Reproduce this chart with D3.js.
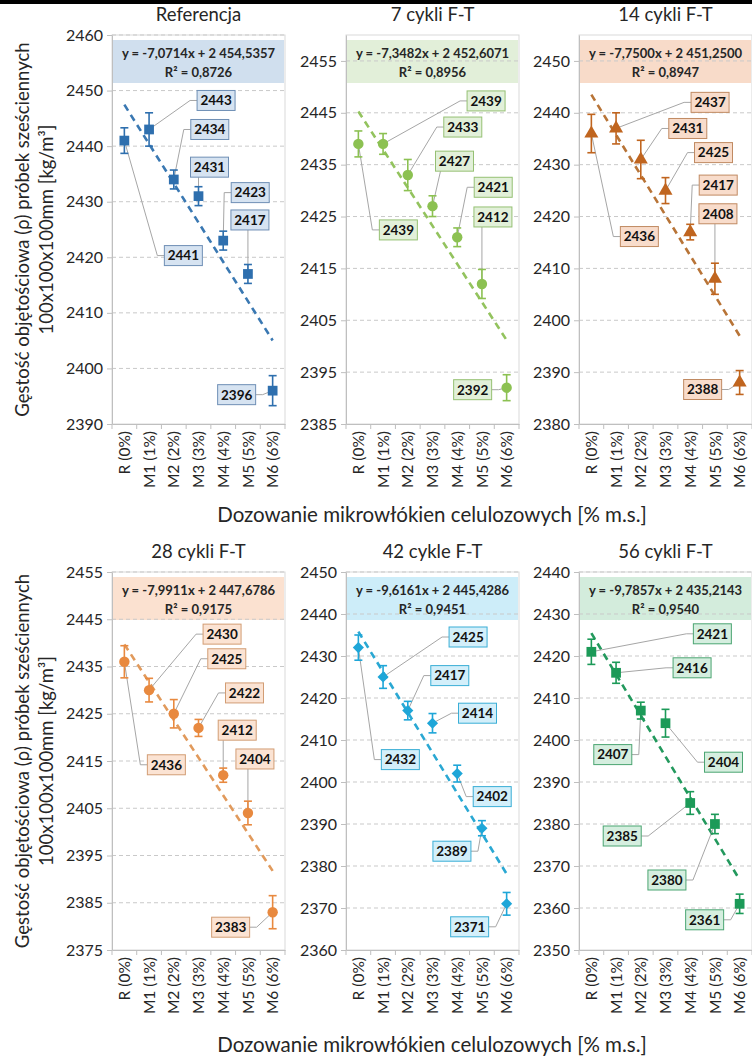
<!DOCTYPE html>
<html>
<head>
<meta charset="utf-8">
<script src="https://cdn.jsdelivr.net/npm/d3@7"></script>
<style>
  body { margin: 0; background: #fff; }
  svg { display: block; }
  text { font-family: Lato, "Open Sans", sans-serif; }
</style>
</head>
<body>
<svg id="chart" width="752" height="1056"></svg>
<script>
// ---- data ----
const categories = ["R (0%)", "M1 (1%)", "M2 (2%)", "M3 (3%)", "M4 (4%)", "M5 (5%)", "M6 (6%)"];
const panelTitles = ["Referencja", "7 cykli F-T", "14 cykli F-T", "28 cykli F-T", "42 cykle F-T", "56 cykli F-T"];

const densityRef = [2441, 2443, 2434, 2431, 2423, 2417, 2396];
const density7   = [2439, 2439, 2433, 2427, 2421, 2412, 2392];
const density14  = [2436, 2437, 2431, 2425, 2417, 2408, 2388];
const density28  = [2436, 2430, 2425, 2422, 2412, 2404, 2383];
const density42  = [2432, 2425, 2417, 2414, 2402, 2389, 2371];
const density56  = [2421, 2416, 2407, 2404, 2385, 2380, 2361];

const errRef = [2.3, 3.0, 1.7, 1.7, 1.7, 1.7, 2.7];
const err7   = [2.5, 2.0, 3.0, 2.0, 1.8, 2.8, 2.5];
const err14  = [3.7, 3.0, 3.7, 2.5, 1.5, 3.0, 2.3];
const err28  = [3.4, 2.5, 3.0, 1.8, 1.5, 2.5, 3.5];
const err42  = [3.0, 2.7, 2.2, 2.3, 2.0, 1.8, 2.7];
const err56  = [3.0, 2.5, 2.0, 3.3, 2.7, 2.3, 2.3];

const slopes     = [-7.0714, -7.3482, -7.7500, -7.9911, -9.6161, -9.7857];
const intercepts = [2454.5357, 2452.6071, 2451.2500, 2447.6786, 2445.4286, 2435.2143];
const rSquared   = [0.8726, 0.8956, 0.8947, 0.9175, 0.9451, 0.9540];

const yMins = [2390, 2385, 2380, 2375, 2360, 2350];
const yMaxs = [2460, 2460, 2455, 2455, 2450, 2440];

const densitySeries = [densityRef, density7, density14, density28, density42, density56];
const errorSeries = [errRef, err7, err14, err28, err42, err56];

// ---- callout placement (pixel offsets of each value box from its point) ----
const calloutOffsets = [
  [[59, 115], [67, -29], [36, -50], [11, -29], [27, -48], [2, -54], [-36, 4]],
  [[40, 86], [103, -43], [55, -48], [22, -45], [36, -50], [11, -67], [-34, 2]],
  [[48, 103], [94, -26], [47, -31], [48, -38], [28, -47], [3, -65], [-37, 7]],
  [[42, 103], [73, -56], [53, -55], [46, -35], [14, -45], [7, -54], [-42, 15]],
  [[42, 112], [85, -40], [42, -35], [45, -10], [35, 23], [-30, 23], [-37, 23]],
  [[121, -18], [76, -5], [-28, 44], [58, 39], [-68, 33], [-48, 56], [-35, 16]]
];

// ---- styles ----
const panelStyles = [
  { marker: "#2e6fae", trend: "#3a78b2", fill: "#d6e3f1", eqFill: "#d0dfee", stroke: "#6f8fb5", shape: "square" },
  { marker: "#8cc152", trend: "#93c35e", fill: "#e2f0d9", eqFill: "#e2efd9", stroke: "#95c073", shape: "circle" },
  { marker: "#c0651f", trend: "#b87437", fill: "#f8dccb", eqFill: "#f8dbc9", stroke: "#c08a62", shape: "triangle" },
  { marker: "#e8893f", trend: "#e19a5c", fill: "#fbe3d3", eqFill: "#fbe1d0", stroke: "#d29d74", shape: "circle" },
  { marker: "#1ea6d8", trend: "#2aa8d3", fill: "#d3effa", eqFill: "#cdedf9", stroke: "#3aaed6", shape: "diamond" },
  { marker: "#1c9a58", trend: "#23995d", fill: "#d5eedf", eqFill: "#d3ecdc", stroke: "#4ba572", shape: "square" }
];

const colLeft = [112, 346, 579];
const plotW = 173;
const rowTop = [35, 572];
const rowBottom = [424, 950];

const plLocale = d3.formatLocale({ decimal: ",", thousands: " ", grouping: [3], currency: ["", ""], minus: "-" });
const f4 = plLocale.format(",.4f");

const svg = d3.select("#chart");
const textColor = "#262626";
const axisColor = "#bfbfbf";

// header rule
svg.append("rect").attr("x", 0).attr("y", 0).attr("width", 752).attr("height", 4).attr("fill", "#000");

function symbolPath(shape) {
  if (shape === "square") return d3.symbol(d3.symbolSquare, 95)();
  if (shape === "circle") return d3.symbol(d3.symbolCircle, 85)();
  if (shape === "triangle") return d3.symbol(d3.symbolTriangle, 85)();
  return d3.symbol(d3.symbolSquare, 62)();
}

function leaderPoints(px, py, cx, cy, w, h) {
  const l = cx - w / 2, r = cx + w / 2, t = cy - h / 2, b = cy + h / 2;
  if (px < l - 3) return [[px, py], [l - 7, cy], [l, cy]];
  if (px > r + 3) return [[px, py], [r + 7, cy], [r, cy]];
  const ex = Math.max(l + 5, Math.min(r - 5, px));
  return py > b ? [[px, py], [ex, b]] : [[px, py], [ex, t]];
}

panelTitles.forEach((title, i) => {
  const col = i % 3, row = Math.floor(i / 3);
  const left = colLeft[col], right = left + plotW;
  const top = rowTop[row], bottom = rowBottom[row];
  const st = panelStyles[i];
  const values = densitySeries[i], errs = errorSeries[i];
  const g = svg.append("g");

  const x = d3.scaleBand().domain(categories).range([left, right]);
  const y = d3.scaleLinear().domain([yMins[i], yMaxs[i]]).range([bottom, top]);
  const cx = c => x(c) + x.bandwidth() / 2;
  const ticks = d3.range(yMins[i], yMaxs[i] + 0.001, 10);

  // plot area frame
  g.append("rect").attr("x", left).attr("y", top).attr("width", plotW).attr("height", bottom - top)
    .attr("fill", "none").attr("stroke", "#d9d9d9").attr("stroke-width", 1);

  // trendline equation box
  g.append("rect").attr("x", left + 1).attr("y", top + 5).attr("width", plotW - 2).attr("height", 43)
    .attr("fill", st.eqFill);

  // gridlines
  g.append("g").selectAll("line").data(ticks.filter(t => t > yMins[i]))
    .join("line")
    .attr("x1", left).attr("x2", right)
    .attr("y1", d => y(d)).attr("y2", d => y(d))
    .attr("stroke", "#c9c9c9").attr("stroke-width", 1).attr("stroke-dasharray", "4,3");

  // y axis
  const yAxis = g.append("g").attr("transform", `translate(${left},0)`)
    .call(d3.axisLeft(y).tickValues(ticks).tickSize(5).tickSizeOuter(0).tickPadding(4).tickFormat(d3.format("d")));
  yAxis.select(".domain").attr("stroke", axisColor);
  yAxis.selectAll(".tick line").attr("stroke", axisColor);
  yAxis.selectAll(".tick text").attr("fill", textColor).style("font-size", "16px")
    .style("font-family", "Lato, sans-serif");

  // x axis
  const xAxis = g.append("g").attr("transform", `translate(0,${bottom})`)
    .call(d3.axisBottom(x).tickSize(0).tickSizeOuter(0));
  xAxis.select(".domain").attr("stroke", axisColor);
  xAxis.selectAll(".tick text")
    .attr("transform", "rotate(-90)").attr("x", -7).attr("y", 0).attr("dy", "0.36em")
    .style("text-anchor", "end").attr("fill", textColor).style("font-size", "15.5px")
    .style("font-family", "Lato, sans-serif");
  g.append("g").selectAll("line").data(d3.range(categories.length + 1))
    .join("line")
    .attr("x1", k => left + k * x.step()).attr("x2", k => left + k * x.step())
    .attr("y1", bottom).attr("y2", bottom + 5)
    .attr("stroke", axisColor);

  // panel title
  g.append("text").attr("x", (left + right) / 2).attr("y", top - 14)
    .attr("text-anchor", "middle").attr("fill", textColor).style("font-size", "18.5px").text(title);

  // linear trendline over x = 1..7
  const trend = categories.map((c, k) => [cx(c), y(intercepts[i] + slopes[i] * (k + 1))]);
  g.append("path").attr("d", d3.line()([trend[0], trend[trend.length - 1]]))
    .attr("fill", "none").attr("stroke", st.trend).attr("stroke-width", 2.6)
    .attr("stroke-dasharray", "7,5");

  // callout leaders
  const bw = 38, bh = 20;
  const callouts = values.map((v, k) => {
    const px = cx(categories[k]), py = y(v);
    const [dx, dy] = calloutOffsets[i][k];
    return { v, px, py, bx: px + dx, by: py + dy };
  });
  g.append("g").selectAll("path").data(callouts).join("path")
    .attr("d", d => d3.line()(leaderPoints(d.px, d.py, d.bx, d.by, bw, bh)))
    .attr("fill", "none").attr("stroke", "#a6a6a6").attr("stroke-width", 1);

  // error bars
  const eb = g.append("g").attr("stroke", st.marker).attr("stroke-width", 1.6);
  values.forEach((v, k) => {
    const px = cx(categories[k]);
    const y1 = y(v - errs[k]), y2 = y(v + errs[k]);
    eb.append("line").attr("x1", px).attr("x2", px).attr("y1", y1).attr("y2", y2);
    eb.append("line").attr("x1", px - 4).attr("x2", px + 4).attr("y1", y1).attr("y2", y1);
    eb.append("line").attr("x1", px - 4).attr("x2", px + 4).attr("y1", y2).attr("y2", y2);
  });

  // markers
  g.append("g").selectAll("path").data(values).join("path")
    .attr("d", symbolPath(st.shape))
    .attr("transform", (v, k) => `translate(${cx(categories[k])},${y(v)})${st.shape === "diamond" ? " rotate(45)" : ""}`)
    .attr("fill", st.marker);

  // value boxes
  const lab = g.append("g").selectAll("g").data(callouts).join("g")
    .attr("transform", d => `translate(${d.bx},${d.by})`);
  lab.append("rect").attr("x", -bw / 2).attr("y", -bh / 2).attr("width", bw).attr("height", bh)
    .attr("fill", st.fill).attr("stroke", st.stroke).attr("stroke-width", 1);
  lab.append("text").attr("text-anchor", "middle").attr("dy", "0.36em")
    .attr("fill", "#111").style("font-size", "13.5px").style("font-weight", "bold")
    .text(d => d.v);

  // equation text
  const eq = g.append("text").attr("text-anchor", "middle").attr("fill", textColor)
    .style("font-size", "13px").style("font-weight", "bold");
  eq.append("tspan").attr("x", (left + right) / 2).attr("y", top + 23)
    .text(`y = ${f4(slopes[i])}x + ${f4(intercepts[i])}`);
  eq.append("tspan").attr("x", (left + right) / 2).attr("y", top + 42)
    .text(`R² = ${f4(rSquared[i])}`);
});

// shared axis titles
[0, 1].forEach(row => {
  const top = rowTop[row], bottom = rowBottom[row];
  const mid = (top + bottom) / 2;
  const yt = svg.append("text").attr("transform", `translate(0,${mid}) rotate(-90)`)
    .attr("text-anchor", "middle").attr("fill", textColor).style("font-size", "18.5px");
  yt.append("tspan").attr("x", 0).attr("y", 29).text("Gęstość objętościowa (ρ) próbek sześciennych");
  yt.append("tspan").attr("x", 0).attr("y", 53).text("100x100x100mm [kg/m³]");

  svg.append("text").attr("x", 432).attr("y", row === 0 ? 522 : 1052)
    .attr("text-anchor", "middle").attr("fill", textColor).style("font-size", "20.5px")
    .text("Dozowanie mikrowłókien celulozowych [% m.s.]");
});
</script>
</body>
</html>
